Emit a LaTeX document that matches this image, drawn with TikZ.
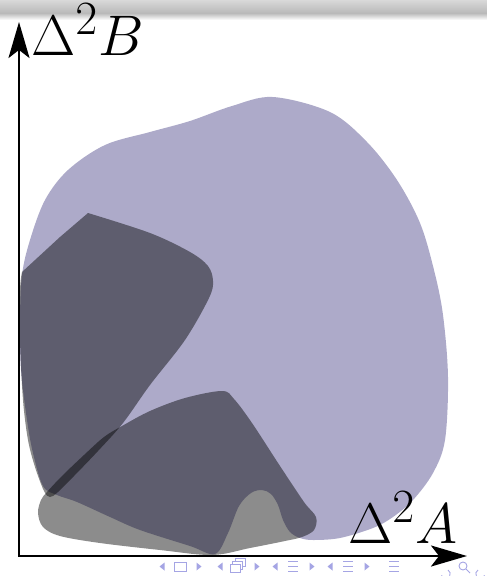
\documentclass[tikz,border=0pt]{standalone}
\usepackage{graphicx}
\usetikzlibrary{positioning, arrows.meta}
\definecolor{blobviolet}{RGB}{173,170,201}
\definecolor{navblue}{RGB}{165,165,228}
\newcommand{\biglabel}[1]{\scalebox{2.3}{\Huge$#1$}}

\begin{document}
\begin{tikzpicture}[
  x=1pt, y=-1pt,
  axis/.style={line width=2.4pt, line cap=rect,
    -{Stealth[length=36pt, width=21pt, inset=8pt]}},
  region/.style={fill=black, fill opacity=0.45},
  axislabel/.style={inner sep=0pt, anchor=base west},
  navsym/.style={draw=navblue, line width=0.9pt},
  navtip/.style={fill=navblue}
]
\useasboundingbox (0,0) rectangle (487,576);

% beamer head line
\shade[top color=gray!30, bottom color=gray!55] (0,0) rectangle (487,13);
\shade[top color=gray!55, bottom color=white] (0,13) rectangle (487,20);

% admissible region
\fill[blobviolet] plot[smooth cycle, tension=0.55] coordinates {
  (273,97) (330,112) (367,142) (397,180) (420,223) (434,270) (443,315)
  (448,377) (445,440) (433,473) (413,500) (393,517) (373,528) (340,538)
  (313,540) (300,538) (290,532) (283,520) (278,505) (271,494) (262,490)
  (251,493) (239,506) (228,533) (215,554) (190,546) (140,530) (110,517)
  (77,502) (57,495) (43,486) (33,453) (27,420) (21,370) (20,320) (22,275)
  (30,240) (45,200) (68,170) (105,145) (150,132) (190,121) (232,106)};

% upper left region
\fill[region] (22,272) -- (60,237) -- plot[smooth, tension=0.55] coordinates {
  (88,213) (150,233) (190,252) (208,266) (213,281) (209,298) (185,340)
  (150,385) (123,423) (98,451) (74,476) (58,492) (50,497) (44,491)
  (35,467) (28,440) (23,400) (20,340) (20,290) (22,272)} -- cycle;

% lower region
\fill[region] plot[smooth cycle, tension=0.55] coordinates {
  (38,513) (41,500) (47,492) (62,476) (84,455) (104,437) (122,426)
  (150,411) (185,398) (222,391) (234,399) (252,423) (280,466) (304,502)
  (316,517) (314,530) (302,537) (285,541) (250,548) (212,555) (160,550)
  (100,543) (60,536) (43,527)};

% axes
\coordinate (origin) at (19,556);
\coordinate (ytip) at (19,22);
\coordinate (xtip) at (467,556);
\draw[axis] (origin) -- (ytip);
\draw[axis] (origin) -- (xtip);
\node[axislabel] (ylabel) at (31,55) {\biglabel{\Delta^2B}};
\node[axislabel] (xlabel) at (348,543) {\biglabel{\Delta^2A}};

% navigation symbols
\foreach \x in {162,220,275,330}{
  \fill[navtip] (\x+2.5,562.5) -- (\x-2.5,566.5) -- (\x+2.5,570.5) -- cycle;
  \fill[navtip] (\x+34.5,562.5) -- (\x+39.5,566.5) -- (\x+34.5,570.5) -- cycle;
}
\draw[navsym] (174,562) rectangle (186,571);
\draw[navsym] (230,564) rectangle (240,572);
\draw[navsym] (232,564) -- (232,561) -- (242,561) -- (242,569) -- (240,569);
\draw[navsym] (235,561) -- (235,558) -- (245,558) -- (245,566) -- (242,566);
\foreach \x in {288,343,389}{
  \draw[navsym] (\x,561) -- (\x+10,561) (\x,566) -- (\x+10,566) (\x,571) -- (\x+10,571);
}
\draw[navsym] (448,570) arc[start angle=-60, end angle=160, radius=4.5];
\draw[navsym] (463,566) circle[radius=4];
\draw[navsym] (466,569) -- (470,573);
\draw[navsym] (478,570) arc[start angle=240, end angle=20, radius=4.5];
\end{tikzpicture}
\end{document}
